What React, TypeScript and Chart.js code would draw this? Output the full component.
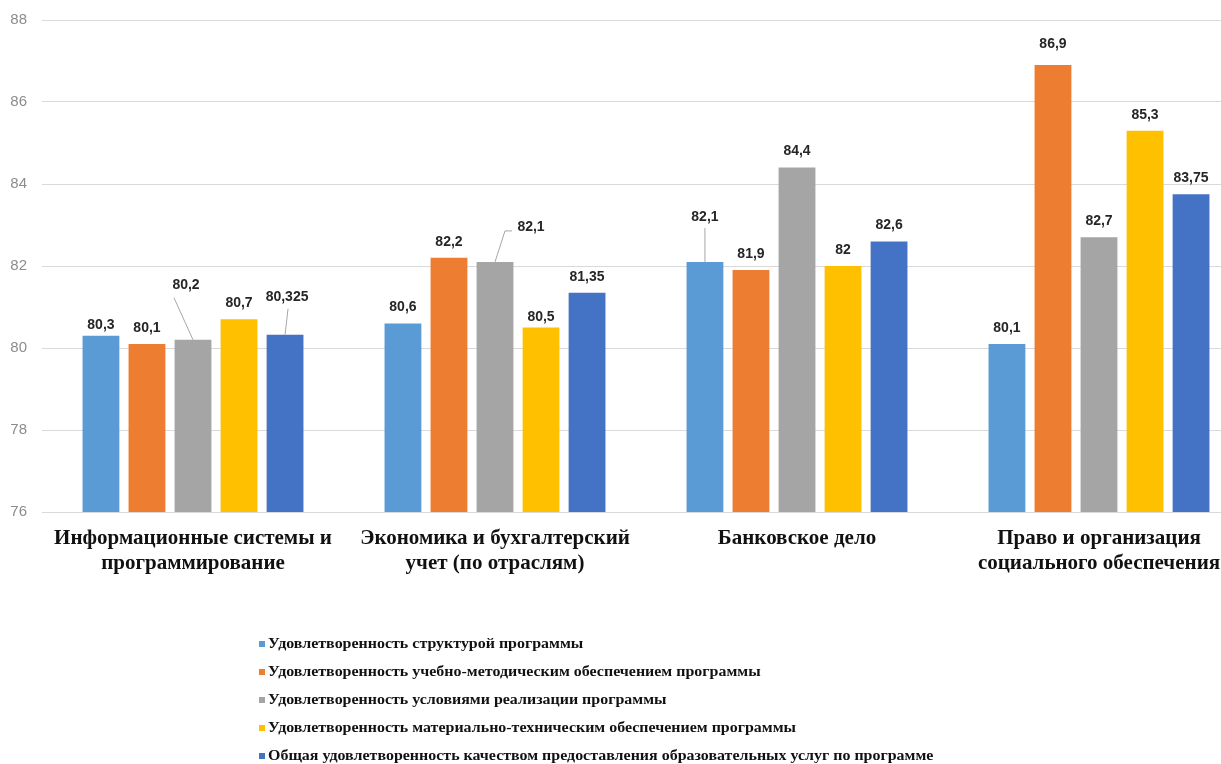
import React, { useEffect, useRef } from "react";
import { Chart, registerables } from "chart.js";

Chart.register(...registerables);

const categories: (string | string[])[] = [
  ["Информационные системы и", "программирование"],
  ["Экономика и бухгалтерский", "учет (по отраслям)"],
  "Банковское дело",
  ["Право и организация", "социального обеспечения"],
];

const seriesNames = [
  "Удовлетворенность структурой программы",
  "Удовлетворенность учебно-методическим обеспечением программы",
  "Удовлетворенность условиями реализации программы",
  "Удовлетворенность материально-техническим обеспечением программы",
  "Общая удовлетворенность качеством предоставления образовательных услуг по программе",
];

const structureValues = [80.3, 80.6, 82.1, 80.1];
const methodValues = [80.1, 82.2, 81.9, 86.9];
const conditionsValues = [80.2, 82.1, 84.4, 82.7];
const materialValues = [80.7, 80.5, 82, 85.3];
const overallValues = [80.325, 81.35, 82.6, 83.75];

const yTicks = [76, 78, 80, 82, 84, 86, 88];

const colors = ["#5B9BD5", "#ED7D31", "#A5A5A5", "#FFC000", "#4472C4"];

// label placement tweaks (pixels, relative to default spot above the bar)
type LabelTweak = { dx: number; dy: number; leader?: [number, number][] };
const labelTweaks: Record<string, LabelTweak> = {
  "0-0": { dx: 0, dy: 5 },
  "3-1": { dx: 0, dy: 6 },
  "1-3": { dx: 0, dy: -5 },
  "2-0": { dx: -7, dy: -39, leader: [[-12, 13]] },
  "4-0": { dx: 2, dy: -22, leader: [[1, 12]] },
  "2-1": { dx: 36, dy: -19, leader: [[-26, 4], [-19, 4]] },
  "0-2": { dx: 0, dy: -29, leader: [[0, 11]] },
};

const dataLabelPlugin = {
  id: "dataLabels",
  afterDatasetsDraw(chart: any) {
    const ctx = chart.ctx as CanvasRenderingContext2D;
    ctx.save();
    ctx.font = "bold 14px 'Liberation Sans', Arial, sans-serif";
    ctx.textAlign = "center";
    ctx.textBaseline = "middle";
    chart.data.datasets.forEach((ds: any, di: number) => {
      const meta = chart.getDatasetMeta(di);
      meta.data.forEach((bar: any, i: number) => {
        const v = ds.data[i] as number;
        const tw = labelTweaks[`${di}-${i}`] || { dx: 0, dy: 0 };
        const lx = bar.x + tw.dx;
        const ly = bar.y - 16 + tw.dy;
        if (tw.leader) {
          ctx.strokeStyle = "#A6A6A6";
          ctx.lineWidth = 1;
          ctx.beginPath();
          ctx.moveTo(bar.x, bar.y);
          tw.leader.forEach(([ox, oy]) => ctx.lineTo(lx + ox, ly + oy));
          ctx.stroke();
        }
        ctx.fillStyle = "#262626";
        ctx.fillText(String(v).replace(".", ","), lx, ly);
      });
    });
    ctx.restore();
  },
};

const legendPlugin = {
  id: "stackLegend",
  afterDraw(chart: any) {
    const ctx = chart.ctx as CanvasRenderingContext2D;
    ctx.save();
    chart.data.datasets.forEach((ds: any, i: number) => {
      const y = 644 + i * 28;
      const x = 259;
      ctx.fillStyle = ds.backgroundColor;
      ctx.fillRect(x, y - 3, 6, 6);
      ctx.save();
      ctx.translate(x + 9, y);
      ctx.scale(1.14, 1);
      ctx.font = "bold 14px 'Liberation Serif', 'Times New Roman', serif";
      ctx.textBaseline = "middle";
      ctx.textAlign = "left";
      ctx.fillStyle = "#111111";
      ctx.fillText(ds.label, 0, 0);
      ctx.restore();
    });
    ctx.restore();
  },
};

export default function App() {
  const ref = useRef<HTMLCanvasElement | null>(null);

  useEffect(() => {
    if (!ref.current) return;
    const allValues = [structureValues, methodValues, conditionsValues, materialValues, overallValues];
    const chart = new Chart(ref.current, {
      type: "bar",
      data: {
        labels: categories,
        datasets: allValues.map((vals, i) => ({
          label: seriesNames[i],
          data: vals,
          backgroundColor: colors[i],
          borderWidth: 0,
          barPercentage: 0.8,
          categoryPercentage: 0.762,
        })),
      },
      options: {
        animation: false,
        responsive: false,
        devicePixelRatio: 1,
        layout: { padding: { top: 20, right: 0, bottom: 190, left: 0 } },
        plugins: {
          legend: { display: false },
          tooltip: { enabled: false },
        },
        scales: {
          x: {
            grid: { display: false, drawTicks: false },
            border: { display: false },
            ticks: {
              padding: 15,
              color: "#111111",
              maxRotation: 0,
              autoSkip: false,
              font: { family: "'Liberation Serif', 'Times New Roman', serif", size: 21, weight: "bold", lineHeight: 1.15 },
            },
            afterFit: (s: any) => {
              s.height = 62;
              s.paddingLeft = 0;
              s.paddingRight = 0;
            },
          },
          y: {
            min: yTicks[0],
            max: yTicks[yTicks.length - 1],
            afterBuildTicks: (s: any) => {
              s.ticks = yTicks.map((v) => ({ value: v }));
            },
            grid: { color: "#D9D9D9", lineWidth: 1, drawTicks: false },
            border: { display: false },
            ticks: {
              padding: 15,
              color: "#8C8C8C",
              font: { family: "'Liberation Sans', Arial, sans-serif", size: 15 },
            },
            afterFit: (s: any) => {
              s.width = 42;
              s.paddingTop = 0;
              s.paddingBottom = 0;
            },
          },
        },
      },
      plugins: [dataLabelPlugin, legendPlugin],
    });
    return () => chart.destroy();
  }, []);

  return (
    <div style={{ position: "fixed", left: 0, top: 0, width: 1221, height: 764, overflow: "hidden", background: "#fff" }}>
      <canvas ref={ref} width={1250} height={764} style={{ display: "block" }} />
    </div>
  );
}
